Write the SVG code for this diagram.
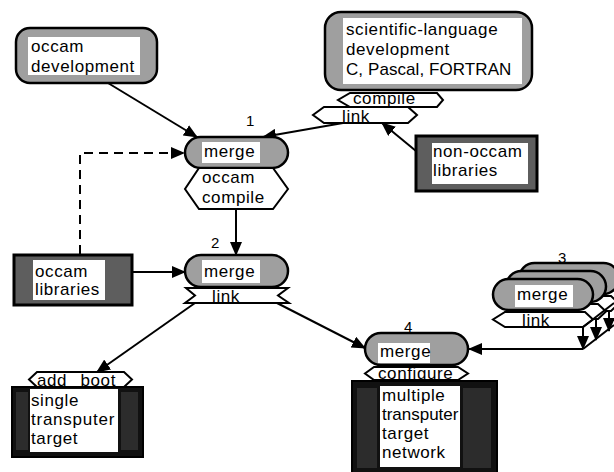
<svg xmlns="http://www.w3.org/2000/svg" width="614" height="472" viewBox="0 0 614 472">
  <style>
    .t { font-family: "Liberation Sans", Arial, sans-serif; font-size: 17px; letter-spacing: 0.6px; fill: #000; }
    .num { font-family: "Liberation Sans", Arial, sans-serif; font-size: 15px; fill: #000; }
    .pill { fill: #9f9f9f; stroke: #000; stroke-width: 2.5; }
    .soft { fill: #9f9f9f; stroke: #000; stroke-width: 2.5; }
    .dark { fill: #5e5e5e; stroke: #000; stroke-width: 3; }
    .black { fill: #111; stroke: #000; stroke-width: 2; }
    .band { fill: #2c2c2c; }
    .inner { fill: #fff; }
    .hex { fill: #fff; stroke: #000; stroke-width: 2; }
    .edge { fill: none; stroke: #000; stroke-width: 2; }
    .dash { stroke-dasharray: 9 6; }
  </style>
  <defs>
    <marker id="arrow" markerUnits="userSpaceOnUse" markerWidth="14" markerHeight="12" viewBox="0 0 14 12" refX="13" refY="6" orient="auto">
      <path d="M0,0 L14,6 L0,12 z" fill="#000"/>
    </marker>
  </defs>

  <!-- connectors -->
  <g id="connectors">
    <line class="edge" x1="108" y1="83" x2="197" y2="137" marker-end="url(#arrow)"/>
    <line class="edge" x1="343" y1="123" x2="263" y2="137" marker-end="url(#arrow)"/>
    <line class="edge" x1="416" y1="151" x2="382" y2="123" marker-end="url(#arrow)"/>
    <polyline class="edge dash" points="80,254 80,153 184,153" marker-end="url(#arrow)"/>
    <line class="edge" x1="236" y1="209" x2="236" y2="255" marker-end="url(#arrow)"/>
    <line class="edge" x1="132" y1="272" x2="185" y2="272" marker-end="url(#arrow)"/>
    <line class="edge" x1="195" y1="303" x2="97" y2="372" marker-end="url(#arrow)"/>
    <line class="edge" x1="277" y1="303" x2="365" y2="348" marker-end="url(#arrow)"/>
    <line class="edge" x1="583" y1="349" x2="469" y2="349" marker-end="url(#arrow)"/>
  </g>

  <!-- occam development -->
  <g id="occam-development">
    <rect class="soft" x="16" y="28" width="141" height="55" rx="14"/>
    <rect class="inner" x="28" y="37" width="112" height="38"/>
    <text class="t" x="31" y="52">occam</text>
    <text class="t" x="31" y="72">development</text>
  </g>

  <!-- scientific-language development with compile / link -->
  <g id="scientific-language">
    <rect class="soft" x="325" y="12" width="207" height="78" rx="16" stroke-width="3"/>
    <rect class="inner" x="343" y="18" width="179" height="66"/>
    <text class="t" x="346" y="35">scientific-language</text>
    <text class="t" x="346" y="55">development</text>
    <text class="t" x="346" y="75" textLength="166" lengthAdjust="spacing">C, Pascal, FORTRAN</text>
    <polygon class="hex" points="350,93 437,93 443,100 437,107 350,107 338,100"/>
    <text class="t" x="353" y="104">compile</text>
    <polygon class="hex" points="324,107 408,107 417,115 408,123 324,123 313,115"/>
    <text class="t" x="342" y="122">link</text>
  </g>

  <!-- non-occam libraries -->
  <g id="non-occam-libraries">
    <rect class="dark" x="416" y="136" width="121" height="55"/>
    <rect class="inner" x="432" y="143" width="96" height="41"/>
    <text class="t" x="433" y="157">non-occam</text>
    <text class="t" x="433" y="176">libraries</text>
  </g>

  <!-- step 1: merge, occam compile -->
  <g id="step-1">
    <text class="num" x="246" y="126">1</text>
    <rect class="pill" x="185" y="137" width="103" height="31" rx="15.5"/>
    <rect class="inner" x="202" y="142" width="58" height="21"/>
    <text class="t" x="204" y="157">merge</text>
    <polygon class="hex" points="199,168 273,168 288,189 273,209 199,209 185,189"/>
    <text class="t" x="202" y="183">occam</text>
    <text class="t" x="202" y="203">compile</text>
  </g>

  <!-- occam libraries -->
  <g id="occam-libraries">
    <rect class="dark" x="14" y="255" width="118" height="50"/>
    <rect class="inner" x="33" y="260" width="72" height="40"/>
    <text class="t" x="35" y="277">occam</text>
    <text class="t" x="35" y="295">libraries</text>
  </g>

  <!-- step 2: merge, link -->
  <g id="step-2">
    <text class="num" x="211" y="248">2</text>
    <rect class="pill" x="185" y="255" width="103" height="32" rx="16"/>
    <rect class="inner" x="202" y="260" width="58" height="23"/>
    <text class="t" x="204" y="277">merge</text>
    <polygon class="hex" points="186,288 288,288 278,295.5 289,303 185,303 195,295.5"/>
    <text class="t" x="212" y="302">link</text>
  </g>

  <!-- step 3: several merge / link stages -->
  <g id="step-3">
    <text class="num" x="558" y="263">3</text>
    <rect class="pill" x="519" y="263" width="100" height="31" rx="15.5"/>
    <polygon class="hex" points="531,296 611,296 619,303.5 611,311 531,311 519,303.5"/>
    <rect class="pill" x="506" y="271" width="100" height="31" rx="15.5"/>
    <polygon class="hex" points="518,304 598,304 606,311.5 598,319 518,319 506,311.5"/>
    <rect class="pill" x="493" y="279" width="100" height="31" rx="15.5"/>
    <rect class="inner" x="515" y="285" width="58" height="22"/>
    <text class="t" x="517" y="300">merge</text>
    <polygon class="hex" points="505,312 585,312 593,319.5 583,327 505,327 493,319.5"/>
    <text class="t" x="522" y="326">link</text>
    <line class="edge" x1="583" y1="327" x2="614" y2="303"/>
    <line class="edge" x1="583" y1="349" x2="614" y2="325"/>
    <line class="edge" x1="583" y1="327" x2="583" y2="349" marker-end="url(#arrow)"/>
    <line class="edge" x1="596" y1="319" x2="596" y2="340" marker-end="url(#arrow)"/>
    <line class="edge" x1="609" y1="311" x2="609" y2="331" marker-end="url(#arrow)"/>
  </g>

  <!-- single transputer target -->
  <g id="single-target">
    <polygon class="hex" points="37,372 124,372 132,379.5 124,387 37,387 29,379.5"/>
    <text class="t" x="37" y="386" word-spacing="8">add boot</text>
    <rect class="black" x="12" y="387" width="131" height="70"/>
    <rect class="band" x="16" y="392" width="12" height="58"/>
    <rect class="band" x="121" y="392" width="17" height="58"/>
    <rect class="inner" x="30" y="389" width="88" height="63"/>
    <text class="t" x="31" y="406">single</text>
    <text class="t" x="31" y="425" textLength="84" lengthAdjust="spacing">transputer</text>
    <text class="t" x="31" y="444">target</text>
  </g>

  <!-- step 4: merge, configure, multiple transputer target network -->
  <g id="step-4">
    <text class="num" x="404" y="332">4</text>
    <rect class="pill" x="365" y="333" width="103" height="32" rx="16"/>
    <rect class="inner" x="378" y="343" width="52" height="20"/>
    <text class="t" x="380" y="357">merge</text>
    <polygon class="hex" points="374,367 458,367 468,373.5 458,380 374,380 365,373.5"/>
    <text class="t" x="378" y="379">configure</text>
    <rect class="black" x="352" y="381" width="145" height="93"/>
    <rect class="band" x="357" y="388" width="20" height="80"/>
    <rect class="band" x="463" y="388" width="28" height="80"/>
    <rect class="inner" x="380" y="386" width="80" height="81"/>
    <text class="t" x="382" y="401">multiple</text>
    <text class="t" x="382" y="420" textLength="77" lengthAdjust="spacing">transputer</text>
    <text class="t" x="382" y="439">target</text>
    <text class="t" x="382" y="458">network</text>
  </g>
</svg>
